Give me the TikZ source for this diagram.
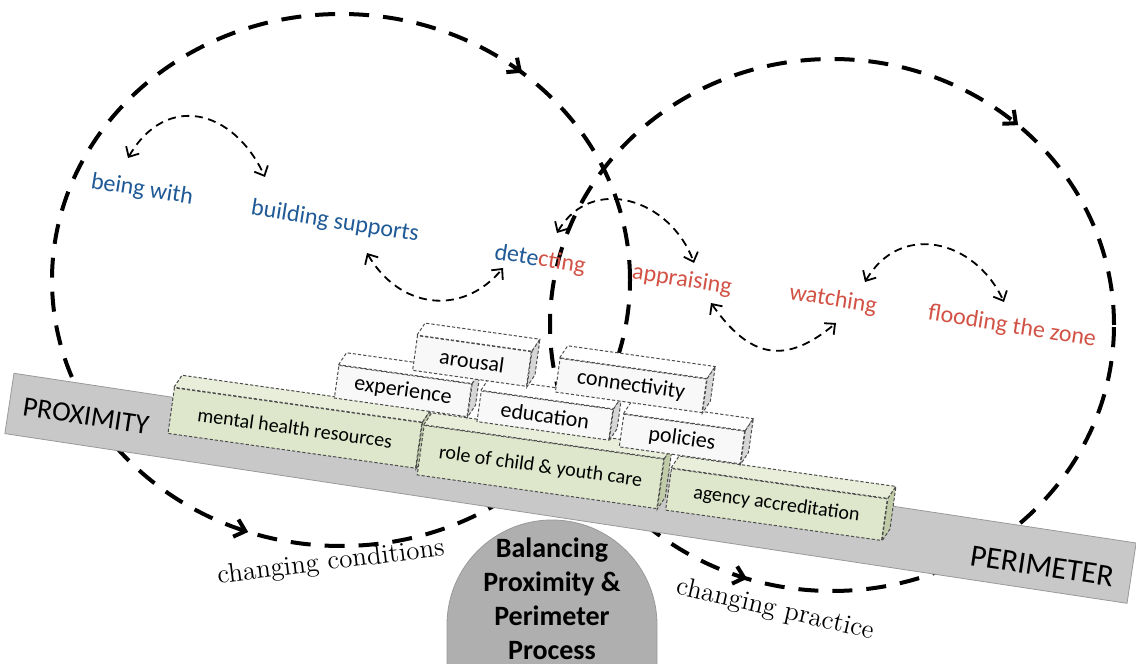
\documentclass[tikz,border=0pt]{standalone}
\usepackage{fontspec}
\newfontfamily\labelfont{Carlito}
\usetikzlibrary{arrows.meta,decorations.markings,shapes}

\definecolor{withblue}{RGB}{31,90,150}
\definecolor{edgered}{RGB}{210,82,70}
\definecolor{bargray}{RGB}{200,200,200}
\definecolor{domegray}{RGB}{175,175,175}
\definecolor{brickgreen}{RGB}{222,231,203}
\definecolor{brickgreentop}{RGB}{232,238,218}
\definecolor{brickgreenside}{RGB}{192,203,168}
\definecolor{brickwhite}{RGB}{248,248,248}
\definecolor{brickside}{RGB}{214,214,214}

\begin{document}
\begin{tikzpicture}[
    x=0.5pt, y=0.5pt,
    bigtip/.tip={Straight Barb[length=5pt,width=9pt]},
    smalltip/.tip={Straight Barb[length=4pt,width=7.5pt]},
    bigloop/.style={line width=2pt, dash pattern=on 10pt off 7pt},
    smallarc/.style={line width=0.9pt, dash pattern=on 4pt off 2.8pt, smalltip-smalltip},
    steplabel/.style={font=\labelfont\fontsize{12}{14}\selectfont, rotate=-9, inner sep=0pt},
    bluelabel/.style={steplabel, text=withblue},
    redlabel/.style={steplabel, text=edgered},
    endlabel/.style={rotate=-8.6, inner sep=0pt},
    brick/.style={rectangle, draw=black!70, dash pattern=on 1.6pt off 1pt, line width=0.5pt,
                  rotate=-8, inner sep=0pt},
    greenbrick/.style={brick, fill=brickgreen, font=\labelfont\fontsize{10}{12}\selectfont},
    whitebrick/.style={brick, fill=brickwhite, font=\labelfont\fontsize{11}{13}\selectfont},
    brickface/.style={draw=black!70, dash pattern=on 1.6pt off 1pt, line width=0.5pt},
    changelabel/.style={font=\fontsize{13.5}{16}\selectfont, inner sep=0pt}
]
\useasboundingbox (0,0) rectangle (1136,664);

% Proximity and perimeter cycles
\draw[bigloop, postaction={decorate, decoration={markings,
      mark=at position 0.139 with {\arrowreversed{bigtip}},
      mark=at position 0.696 with {\arrow{bigtip}}}}]
  (341,384) ellipse [x radius=289, y radius=266];
\draw[bigloop, postaction={decorate, decoration={markings,
      mark=at position 0.133 with {\arrowreversed{bigtip}},
      mark=at position 0.700 with {\arrow{bigtip}}}}]
  (832,339) ellipse [x radius=282, y radius=266];

% Balancing dome
\draw[draw=black!40, fill=domegray] (447,0) -- (447,39) arc[start angle=180, end angle=0, radius=105] -- (657,0);
\node[font=\labelfont\bfseries\fontsize{14}{17}\selectfont, align=center, inner sep=0pt] (balance) at (552,65)
  {Balancing\\Proximity \&\\Perimeter\\Process};

% Beam
\node[draw=black!40, fill=bargray, rotate=-8.6, minimum width=567.5pt, minimum height=30.5pt, inner sep=0pt]
  (beam) at (570.5,175.7) {};
\node[endlabel, font=\labelfont\fontsize{14}{16}\selectfont] (proximity) at (86,248) {PROXIMITY};
\node[endlabel, font=\labelfont\fontsize{15.5}{17}\selectfont] (perimeter) at (1042,98) {PERIMETER};

% Bottom row of bricks
\node[greenbrick, minimum width=125pt, minimum height=23pt] (mental) at (295,236) {mental health resources};
\draw[brickface, fill=brickgreentop] (mental.north west) -- ++(8,12) -- ([shift={(8,12)}]mental.north east) -- (mental.north east) -- cycle;
\draw[brickface, fill=brickgreenside] (mental.north east) -- ++(8,12) -- ([shift={(8,12)}]mental.south east) -- (mental.south east) -- cycle;
\node[greenbrick, minimum width=121pt, minimum height=25pt] (role) at (540.5,197) {role of child \& youth care};
\draw[brickface, fill=brickgreentop] (role.north west) -- ++(8,12) -- ([shift={(8,12)}]role.north east) -- (role.north east) -- cycle;
\draw[brickface, fill=brickgreenside] (role.north east) -- ++(8,12) -- ([shift={(8,12)}]role.south east) -- (role.south east) -- cycle;
\node[greenbrick, minimum width=109pt, minimum height=21pt] (agency) at (776.5,159.5) {agency accreditation};
\draw[brickface, fill=brickgreentop] (agency.north west) -- ++(8,12) -- ([shift={(8,12)}]agency.north east) -- (agency.north east) -- cycle;
\draw[brickface, fill=brickgreenside] (agency.north east) -- ++(8,12) -- ([shift={(8,12)}]agency.south east) -- (agency.south east) -- cycle;

% Middle row of bricks
\node[whitebrick, minimum width=67pt, minimum height=16.5pt] (experience) at (403,273) {experience};
\draw[brickface, fill=white] (experience.north west) -- ++(8,12) -- ([shift={(8,12)}]experience.north east) -- (experience.north east) -- cycle;
\draw[brickface, fill=brickside] (experience.north east) -- ++(8,12) -- ([shift={(8,12)}]experience.south east) -- (experience.south east) -- cycle;
\node[whitebrick, minimum width=66.5pt, minimum height=15.5pt] (education) at (545,248.5) {education};
\draw[brickface, fill=white] (education.north west) -- ++(8,12) -- ([shift={(8,12)}]education.north east) -- (education.north east) -- cycle;
\draw[brickface, fill=brickside] (education.north east) -- ++(8,12) -- ([shift={(8,12)}]education.south east) -- (education.south east) -- cycle;
\node[whitebrick, minimum width=61pt, minimum height=16.5pt] (policies) at (682,225) {policies};
\draw[brickface, fill=white] (policies.north west) -- ++(8,12) -- ([shift={(8,12)}]policies.north east) -- (policies.north east) -- cycle;
\draw[brickface, fill=brickside] (policies.north east) -- ++(8,12) -- ([shift={(8,12)}]policies.south east) -- (policies.south east) -- cycle;

% Top row of bricks
\node[whitebrick, minimum width=57.5pt, minimum height=17.5pt] (arousal) at (472,303) {arousal};
\draw[brickface, fill=white] (arousal.north west) -- ++(8,12) -- ([shift={(8,12)}]arousal.north east) -- (arousal.north east) -- cycle;
\draw[brickface, fill=brickside] (arousal.north east) -- ++(8,12) -- ([shift={(8,12)}]arousal.south east) -- (arousal.south east) -- cycle;
\node[whitebrick, minimum width=74pt, minimum height=17pt] (connectivity) at (631,278.5) {connectivity};
\draw[brickface, fill=white] (connectivity.north west) -- ++(8,12) -- ([shift={(8,12)}]connectivity.north east) -- (connectivity.north east) -- cycle;
\draw[brickface, fill=brickside] (connectivity.north east) -- ++(8,12) -- ([shift={(8,12)}]connectivity.south east) -- (connectivity.south east) -- cycle;

% Practice labels
\node[bluelabel] (being) at (142,474) {being with};
\node[bluelabel] (building) at (335,442) {building supports};
\node[steplabel] (detecting) at (540,404) {\textcolor{withblue}{dete}\textcolor{edgered}{cting}};
\node[redlabel] (appraising) at (682,384) {appraising};
\node[redlabel] (watching) at (833,364) {watching};
\node[redlabel] (flooding) at (1012,337) {flooding the zone};

% Links between practices
\draw[smallarc] ([shift={(-14,32)}]being.center) to[out=60, in=115, looseness=1.4] ([shift={(-70,45)}]building.center);
\draw[smallarc] ([shift={(32,-31)}]building.center) to[out=-60, in=-130, looseness=1.2] ([shift={(-37,-8)}]detecting.center);
\draw[smallarc] ([shift={(17,27)}]detecting.center) to[out=60, in=110, looseness=1.25] ([shift={(12,17)}]appraising.center);
\draw[smallarc] ([shift={(29,-23)}]appraising.center) to[out=-55, in=-140, looseness=1.35] ([shift={(3,-23)}]watching.center);
\draw[smallarc] ([shift={(32,18)}]watching.center) to[out=60, in=115, looseness=1.27] ([shift={(-8,25)}]flooding.center);

% Changing labels
\node[changelabel, rotate=7] (conditions) at (331,101) {changing conditions};
\node[changelabel, rotate=-13] (practice) at (775,54) {changing practice};

\end{tikzpicture}
\end{document}
